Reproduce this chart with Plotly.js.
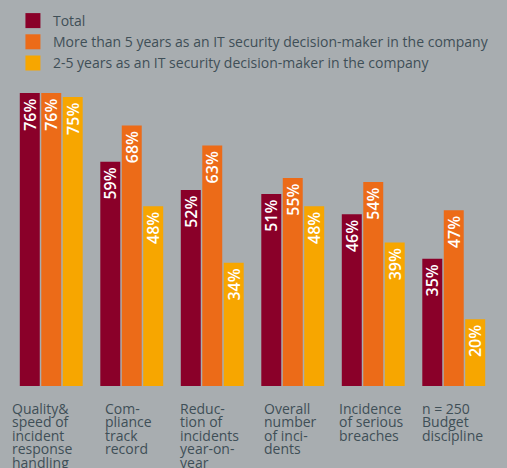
<!DOCTYPE html>
<html>
<head>
<meta charset="utf-8">
<script src="https://cdn.plot.ly/plotly-3.0.1.min.js"></script>
<style>html,body{margin:0;padding:0;background:#a8adb0;}#chart{width:507px;height:468px;}</style>
</head>
<body>
<div id="chart"></div>
<script>
var categories = ["Quality& speed of incident response handling", "Compliance track record", "Reduction of incidents year-on-year", "Overall number of incidents", "Incidence of serious breaches", "n = 250 Budget discipline"];
var categoryLines = [
  ["Quality&", "speed of", "incident", "response", "handling"],
  ["Com-", "pliance", "track", "record"],
  ["Reduc-", "tion of", "incidents", "year-on-", "year"],
  ["Overall", "number", "of inci-", "dents"],
  ["Incidence", "of serious", "breaches"],
  ["n = 250", "Budget", "discipline"]
];
var seriesNames = ["Total", "More than 5 years as an IT security decision-maker in the company", "2-5 years as an IT security decision-maker in the company"];
var totalValues = [76, 59, 52, 51, 46, 35];
var moreThan5Values = [76, 68, 63, 55, 54, 47];
var twoTo5Values = [75, 48, 34, 48, 39, 20];

var colors = ["#8a0029", "#ec6b18", "#f7a600"];
var textColor = "#3f4f57";
var fontFam = "'Open Sans', 'DejaVu Sans', sans-serif";
var seriesValues = [totalValues, moreThan5Values, twoTo5Values];
var labelShift = [-41, -29, -34, -31, -36, -34];

var xIdx = categories.map(function (c, i) { return i; });
var traces = seriesValues.map(function (vals, s) {
  return {
    type: "bar",
    name: seriesNames[s],
    x: xIdx,
    y: vals,
    marker: {color: colors[s]},
    text: vals.map(function (v) { return v + "%\u2009"; }),
    textposition: "inside",
    insidetextanchor: "end",
    constraintext: "none",
    textangle: -90,
    textfont: {family: fontFam, size: 16, color: "#ffffff", weight: 600},
    showlegend: false,
    hoverinfo: "none"
  };
});
seriesNames.forEach(function (n, s) {
  traces.push({
    type: "scatter", mode: "markers", name: n,
    x: [null], y: [null],
    marker: {symbol: "square", size: 15, color: colors[s]},
    showlegend: true, hoverinfo: "none"
  });
});

var annotations = [];
categoryLines.forEach(function (lines, i) {
  lines.forEach(function (ln, k) {
    annotations.push({
      xref: "x", yref: "paper", x: i, y: 0,
      xanchor: "left", yanchor: "top",
      xshift: labelShift[i], yshift: -11 - k * 13.4,
      text: ln, showarrow: false, align: "left",
      font: {family: fontFam, size: 14, color: textColor}
    });
  });
});

var layout = {
  width: 507, height: 468,
  margin: {l: 11, r: 13, t: 5, b: 82, pad: 0},
  paper_bgcolor: "#a8adb0",
  plot_bgcolor: "#a8adb0",
  barmode: "group",
  bargap: 0.2,
  bargroupgap: 0.07,
  showlegend: true,
  legend: {
    x: 0.004, y: 1, xref: "paper", yref: "paper",
    xanchor: "left", yanchor: "top",
    orientation: "v",
    font: {family: fontFam, size: 14, color: textColor},
    bgcolor: "rgba(0,0,0,0)",
    traceorder: "normal",
    itemclick: false
  },
  xaxis: {
    type: "linear", range: [-0.5, 5.5],
    showticklabels: false, showgrid: false, zeroline: false, showline: false, ticks: ""
  },
  yaxis: {
    range: [3.5, 97.8],
    visible: false, showgrid: false, zeroline: false
  },
  annotations: annotations
};

Plotly.newPlot("chart", traces, layout, {staticPlot: true, displayModeBar: false});
</script>
</body>
</html>
